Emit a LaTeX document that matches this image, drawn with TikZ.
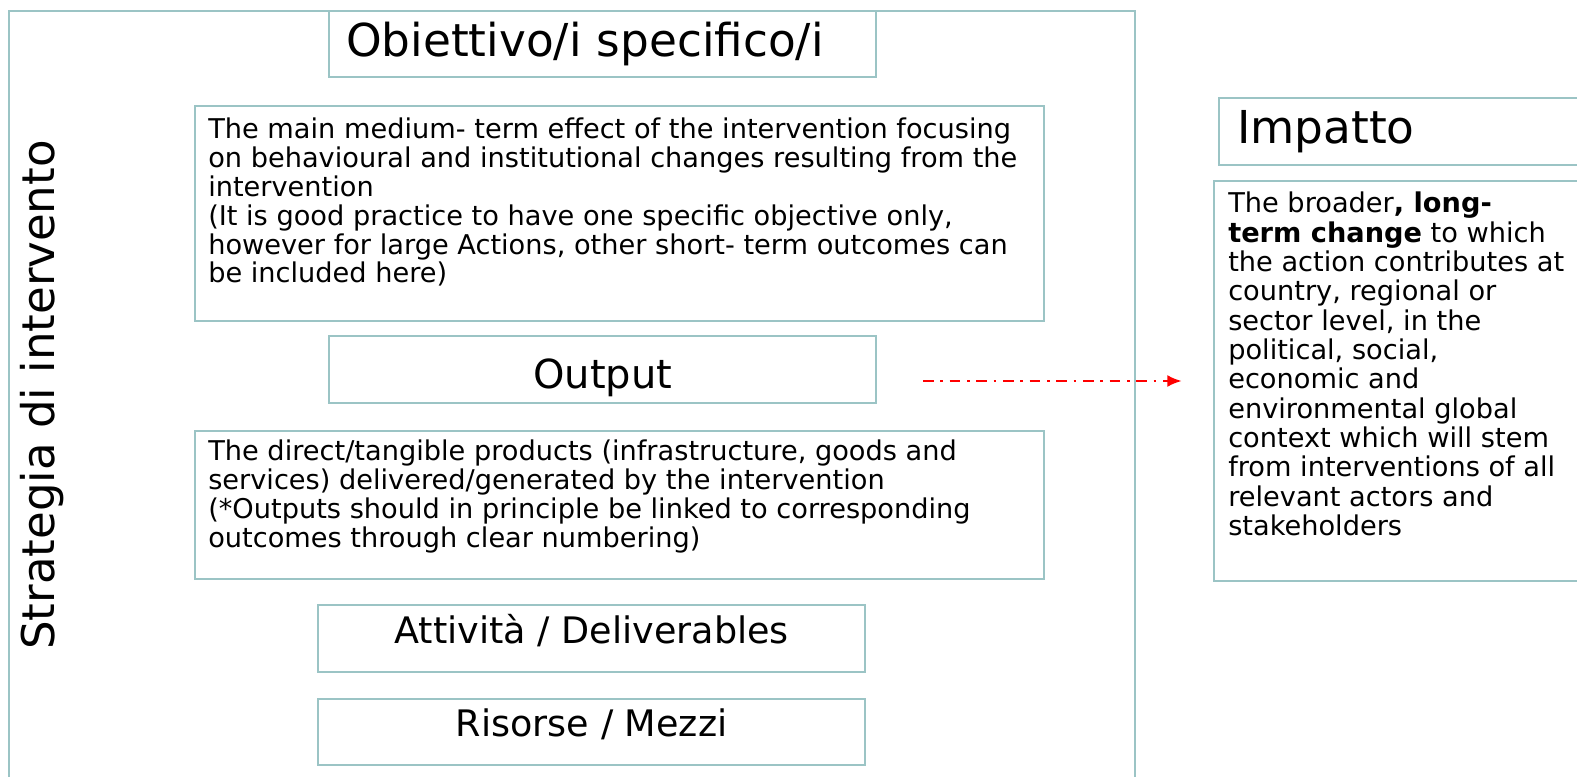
\documentclass[tikz,border=0pt]{standalone}
\usepackage{fontspec}
\setmainfont{DejaVu Sans}
\usetikzlibrary{arrows.meta}
\definecolor{frame}{RGB}{155,196,197}
\newcommand{\alza}[2]{\raisebox{#1}[\height][\depth]{#2}}

\begin{document}
\begin{tikzpicture}
    [
        x=0.75pt, y=-0.75pt,
        square/.style = {draw=frame, shape=rectangle, line width=1.8pt, inner sep=0pt, anchor=north west},
        title/.style = {font=\fontsize{34}{40}\selectfont},
        small/.style = {font=\fontsize{27.4}{32}\selectfont},
        body/.style = {font=\fontsize{20.4}{21.6}\selectfont, align=left, anchor=north west, inner sep=0pt},
    ]
    \useasboundingbox (0,0) rectangle (1577,777);
    \clip (0,0) rectangle (1577,777);

    \node[square, minimum width=844.5pt, minimum height=600pt] (strategia) at (8,10) {};
    \node[title, font=\fontsize{33.8}{40}\selectfont, rotate=90] (strategiatxt) at (42,395) {Strategia di intervento};

    \node[square, title, minimum height=49.5pt, text width=384.75pt, inner xsep=12.75pt, align=left] (obiettivo) at (328,10) {Obiettivo/i specifico/i};
    \node[square, minimum width=636.75pt, minimum height=161.25pt] (scopo) at (194,105) {};
    \node[body] (scopotxt) at ([shift={(14,13)}]scopo.north west)
        {The main medium- term effect of the intervention focusing\\
         on behavioural and institutional changes resulting from the\\
         intervention\\
         (It is good practice to have one specific objective only,\\
         however for large Actions, other short- term outcomes can\\
         be included here)};

    \node[square, font=\fontsize{30}{36}\selectfont, minimum width=410.25pt, minimum height=50.25pt] (output) at (328,335) {\alza{-6pt}{Output}};
    \node[square, minimum width=636.75pt, minimum height=111pt] (prodotti) at (194,430) {};
    \node[body] (prodottitxt) at ([shift={(14,10)}]prodotti.north west)
        {The direct/tangible products (infrastructure, goods and\\
         services) delivered/generated by the intervention\\
         (*Outputs should in principle be linked to corresponding\\
         outcomes through clear numbering)};

    \node[square, small, minimum width=410.25pt, minimum height=50.25pt] (attivita) at (317,604) {\alza{6pt}{Attività / Deliverables}};
    \node[square, small, minimum width=410.25pt, minimum height=49.5pt] (risorse) at (317,698) {\alza{6pt}{Risorse / Mezzi}};

    \node[square, title, minimum height=50.25pt, text width=252pt, inner xsep=13.5pt, align=left] (impatto) at (1218,97) {Impatto};
    \node[square, minimum width=280pt, minimum height=300pt] (cambio) at (1213,180) {};
    \node[body, font=\fontsize{20.4}{22}\selectfont] (cambiotxt) at ([shift={(15,12)}]cambio.north west)
        {The broader\textbf{, long-}\\
         \textbf{term change} to which\\
         the action contributes at\\
         country, regional or\\
         sector level, in the\\
         political, social,\\
         economic and\\
         environmental global\\
         context which will stem\\
         from interventions of all\\
         relevant actors and\\
         stakeholders};

    \coordinate (da) at (923,381);
    \coordinate (a) at (1182,381);
    \draw [-{Latex[length=11pt,width=9pt]}, red, line width=2pt, dash pattern=on 8pt off 5pt on 2pt off 5pt] (da) -- (a);

\end{tikzpicture}
\end{document}
